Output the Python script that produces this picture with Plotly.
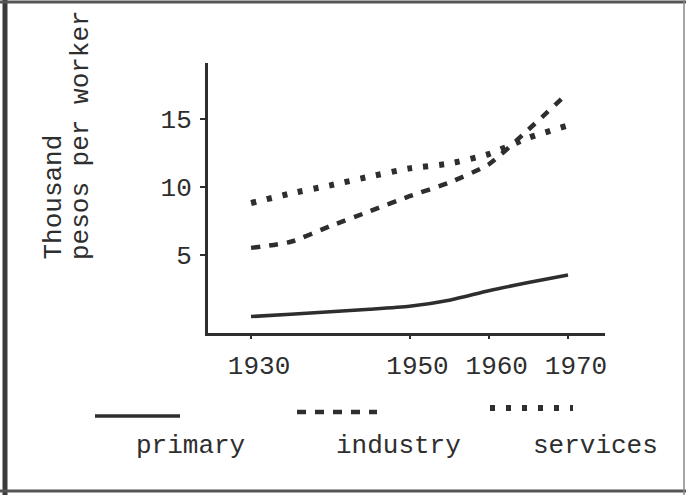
import plotly.graph_objects as go

# ---- data ----
years = [1930, 1935, 1940, 1945, 1950, 1955, 1960, 1965, 1970]
primary = [0.45, 0.62, 0.8, 0.98, 1.2, 1.65, 2.35, 2.95, 3.5]
industry = [5.5, 5.95, 7.1, 8.2, 9.3, 10.3, 11.65, 14.2, 16.9]
services = [8.8, 9.5, 10.1, 10.75, 11.35, 11.7, 12.4, 13.6, 14.5]
x_tick_vals = [1930, 1950, 1960, 1970]
x_tick_text = ["1930", "1950", "1960", "1970"]
y_tick_vals = [5, 10, 15]
y_tick_text = ["5", "10", "15"]
series_names = ["primary", "industry", "services"]

INK = "#2e2e2e"
FONT = "Liberation Mono, Courier New, monospace"

# plot-area geometry in pixels (for paper-coordinate helpers)
W, H = 686, 495
L, R, T, B = 208, 605, 63, 333


def px(x):
    return (x - L) / (R - L)


def py(y):
    return (B - y) / (B - T)


fig = go.Figure()
fig.add_trace(go.Scatter(x=years, y=primary, mode="lines", name=series_names[0],
                         line=dict(color=INK, width=3.5, shape="spline", smoothing=0.6)))
fig.add_trace(go.Scatter(x=years, y=industry, mode="lines", name=series_names[1],
                         line=dict(color=INK, width=4.5, dash="9px,9px", shape="spline",
                                   smoothing=0.6)))
fig.add_trace(go.Scatter(x=years, y=services, mode="lines", name=series_names[2],
                         line=dict(color=INK, width=6, dash="5px,11px", shape="spline",
                                   smoothing=0.6)))

fig.update_layout(
    width=W, height=H,
    margin=dict(l=L, r=W - R, t=T, b=H - B),
    paper_bgcolor="white", plot_bgcolor="white",
    showlegend=False,
    font=dict(family=FONT, size=26, color=INK),
)
fig.update_xaxes(range=[1924.57, 1974.67], tickvals=x_tick_vals, ticktext=x_tick_text,
                 showgrid=False, zeroline=False, showline=True, linewidth=3,
                 linecolor=INK, ticks="outside", ticklen=3, tickwidth=2, tickcolor=INK,
                 ticklabelshift=8, ticklabelstandoff=4,
                 tickfont=dict(family=FONT, size=26, color=INK))
fig.update_yaxes(range=[-0.76, 19.1], tickvals=y_tick_vals, ticktext=y_tick_text,
                 showgrid=False, zeroline=False, showline=True, linewidth=3,
                 linecolor=INK, ticks="outside", ticklen=5, tickwidth=2, tickcolor=INK,
                 ticklabelstandoff=3,
                 tickfont=dict(family=FONT, size=26, color=INK))

# y-axis title (two rotated lines, bottom aligned)
fig.add_annotation(text="Thousand", xref="paper", yref="paper", x=px(53), y=py(262),
                   xanchor="center", yanchor="bottom", textangle=-90, showarrow=False,
                   font=dict(family=FONT, size=26, color=INK))
fig.add_annotation(text="pesos per worker", xref="paper", yref="paper", x=px(81), y=py(262),
                   xanchor="center", yanchor="bottom", textangle=-90, showarrow=False,
                   font=dict(family=FONT, size=26, color=INK))

# legend: sample line above each label
legend_keys = [
    (series_names[0], 95, 180, 416, None, 3.5, 190),
    (series_names[1], 297, 377, 412, "9px,9px", 4.5, 398),
    (series_names[2], 490, 573, 408, "5px,11px", 6, 595),
]
for name, x0, x1, yy, dash, wd, tx in legend_keys:
    line = dict(color=INK, width=wd)
    if dash:
        line["dash"] = dash
    fig.add_shape(type="line", xref="paper", yref="paper", x0=px(x0), x1=px(x1),
                  y0=py(yy), y1=py(yy), line=line)
    fig.add_annotation(text=name, xref="paper", yref="paper", x=px(tx), y=py(446),
                       xanchor="center", yanchor="middle", showarrow=False,
                       font=dict(family=FONT, size=26, color=INK))

# scanned page border
fig.add_shape(type="line", xref="paper", yref="paper", x0=px(5), x1=px(5), y0=py(0), y1=py(495),
              line=dict(color="#3a3a3a", width=5))
fig.add_shape(type="line", xref="paper", yref="paper", x0=px(0), x1=px(686), y0=py(2), y1=py(2),
              line=dict(color="#555555", width=3))
fig.add_shape(type="line", xref="paper", yref="paper", x0=px(0), x1=px(686), y0=py(491), y1=py(491),
              line=dict(color="#555555", width=3))
fig.add_shape(type="line", xref="paper", yref="paper", x0=px(684), x1=px(684), y0=py(0), y1=py(495),
              line=dict(color="#888888", width=1.5))

fig.write_html("out.html",
               config={"displayModeBar": False},
               post_script="document.body.style.margin='0';document.body.style.overflow='hidden';")
